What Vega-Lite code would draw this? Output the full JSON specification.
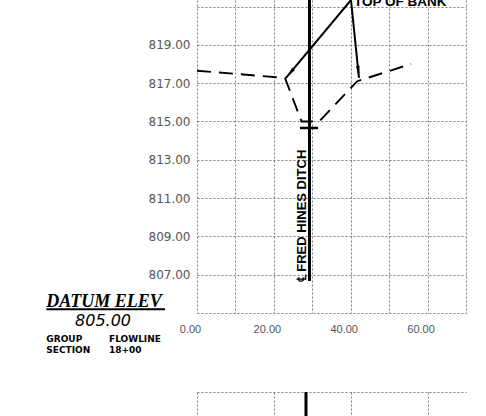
{
  "$schema": "https://vega.github.io/schema/vega-lite/v6.json",
  "padding": {"left": 45, "top": 0, "right": 20, "bottom": 0},
  "background": "white",
  "spacing": 34,
  "config": {
    "view": {"stroke": null},
    "axis": {"grid": true, "gridColor": "#7d7d7d", "gridDash": [2, 2], "gridWidth": 1, "ticks": false, "domain": false, "title": null, "labelFlush": false, "labelOverlap": false}
  },
  "datasets": {
    "profile": [{"x": 0, "y": 817.65}, {"x": 22.9, "y": 817.27}, {"x": 27.2, "y": 815.0}, {"x": 31.8, "y": 815.0}, {"x": 41.7, "y": 817.1}, {"x": 55.7, "y": 818.0}],
    "centerline": [{"x": 29.27, "y": 821.34, "y2": 806.67}],
    "flow": [{"x": 26.8, "x2": 31.5, "y": 814.66}],
    "leaders": [{"x": 40.07, "y": 821.34, "x2": 23.16, "y2": 817.27}, {"x": 40.07, "y": 821.34, "x2": 42.15, "y2": 817.27}],
    "arrows": [{"x": 24.16, "y": 817.51, "a": 39.7}, {"x": 42.0, "y": 817.58, "a": 354}],
    "datum_title": [{"x": -24.2, "y": 805.33, "label": "DATUM ELEV"}],
    "datum_value": [{"x": -24.46, "y": 804.3, "label": "805.00"}],
    "datum_info": [{"x": -39.2, "y": 803.48, "label": "GROUP"}, {"x": -22.9, "y": 803.48, "label": "FLOWLINE"}, {"x": -39.2, "y": 802.9, "label": "SECTION"}, {"x": -22.9, "y": 802.9, "label": "18+00"}],
    "datum_rule": [{"x": -39.2, "x2": -8.33, "y": 805.2}],
    "ditch": [{"x": 28.36, "y": 806.6, "label": "℄ FRED HINES DITCH"}],
    "bank_top": [{"x": 40.85, "y": 821.03, "label": "TOP OF BANK"}],
    "cl2": [{"x": 28.36}],
    "bank_bottom": [{"x": 40.46, "y": 0.04, "label": "TOP OF BANK"}]
  },
  "vconcat": [
    {
      "width": 269,
      "height": 313,
      "encoding": {
        "x": {"field": "x", "type": "quantitative", "scale": {"domain": [0, 70], "nice": false, "zero": false},
          "axis": {"values": [0, 10, 20, 30, 40, 50, 60, 70], "labelExpr": "datum.value % 20 == 0 && datum.value < 70 ? format(datum.value, '.2f') : ''", "labelFont": "Liberation Sans", "labelFontSize": 11, "labelColor": "#555", "labelPadding": 10, "labelOffset": -7, "labelBaseline": "top"}},
        "y": {"field": "y", "type": "quantitative", "scale": {"domain": [805, 821.34], "nice": false, "zero": false},
          "axis": {"values": [805, 807, 809, 811, 813, 815, 817, 819, 821], "labelExpr": "datum.value >= 807 && datum.value <= 819 ? format(datum.value, '.2f') : ''", "labelFont": "DejaVu Sans", "labelFontSize": 12, "labelColor": "#555", "labelPadding": 7}}
      },
      "layer": [
        {"data": {"name": "profile"}, "mark": {"type": "line", "color": "black", "strokeWidth": 1.9, "strokeDash": [14, 8]}},
        {"data": {"name": "centerline"}, "mark": {"type": "rule", "color": "black", "strokeWidth": 3, "clip": true}, "encoding": {"y2": {"field": "y2"}}},
        {"data": {"name": "flow"}, "mark": {"type": "rule", "color": "black", "strokeWidth": 2.5}, "encoding": {"x2": {"field": "x2"}}},
        {"data": {"name": "leaders"}, "mark": {"type": "rule", "color": "black", "strokeWidth": 2, "clip": true}, "encoding": {"x2": {"field": "x2"}, "y2": {"field": "y2"}}},
        {"data": {"name": "arrows"}, "mark": {"type": "point", "shape": "M0,1L-0.3,-1L0.3,-1Z", "filled": true, "color": "black", "size": 144, "opacity": 1}, "encoding": {"angle": {"field": "a", "type": "quantitative", "scale": null}}},
        {"data": {"name": "datum_rule"}, "mark": {"type": "rule", "color": "black", "strokeWidth": 2}, "encoding": {"x2": {"field": "x2"}}},
        {"data": {"name": "datum_title"}, "mark": {"type": "text", "align": "center", "baseline": "alphabetic", "font": "Liberation Serif", "fontStyle": "italic", "fontWeight": "bold", "fontSize": 18, "color": "black"}, "encoding": {"text": {"field": "label"}}},
        {"data": {"name": "datum_value"}, "mark": {"type": "text", "align": "center", "baseline": "alphabetic", "font": "DejaVu Sans", "fontStyle": "italic", "fontSize": 16, "color": "black"}, "encoding": {"text": {"field": "label"}}},
        {"data": {"name": "datum_info"}, "mark": {"type": "text", "align": "left", "baseline": "alphabetic", "font": "DejaVu Sans", "fontWeight": "bold", "fontSize": 9, "color": "black"}, "encoding": {"text": {"field": "label"}}},
        {"data": {"name": "ditch"}, "mark": {"type": "text", "angle": 270, "align": "left", "baseline": "alphabetic", "font": "Liberation Sans", "fontWeight": "bold", "fontSize": 13, "color": "black"}, "encoding": {"text": {"field": "label"}}},
        {"data": {"name": "bank_top"}, "mark": {"type": "text", "align": "left", "baseline": "alphabetic", "font": "Liberation Sans", "fontWeight": "bold", "fontSize": 13.5, "color": "black", "clip": true}, "encoding": {"text": {"field": "label"}}}
      ]
    },
    {
      "width": 269,
      "height": 26,
      "layer": [
        {"data": {"name": "cl2"}, "mark": {"type": "rule", "color": "black", "strokeWidth": 3},
          "encoding": {"x": {"field": "x", "type": "quantitative", "scale": {"domain": [0, 70], "nice": false, "zero": false}, "axis": {"values": [0, 10, 20, 30, 40, 50, 60, 70], "labels": false}}}},
        {"data": {"name": "bank_bottom"}, "mark": {"type": "text", "align": "left", "baseline": "top", "font": "Liberation Sans", "fontWeight": "bold", "fontSize": 13.5, "color": "black", "clip": true},
          "encoding": {"x": {"field": "x", "type": "quantitative"}, "y": {"field": "y", "type": "quantitative", "scale": {"domain": [0, 1], "nice": false, "zero": false}, "axis": {"values": [1], "labels": false}}, "text": {"field": "label"}}}
      ]
    }
  ]
}
